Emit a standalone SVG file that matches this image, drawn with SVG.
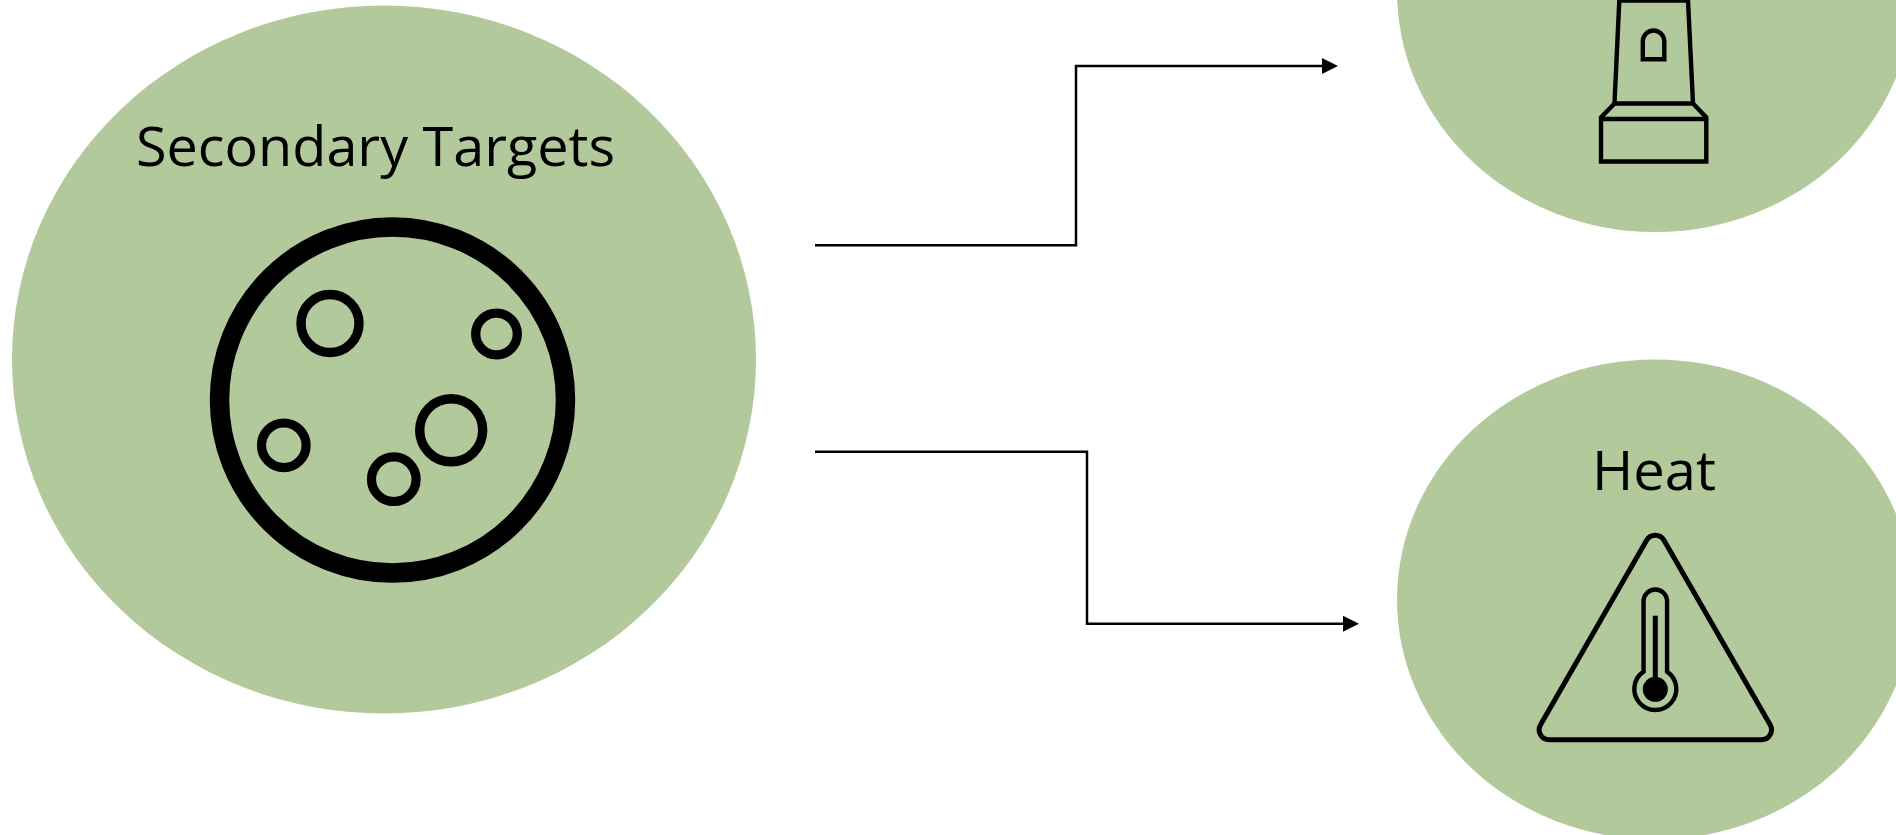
<svg xmlns="http://www.w3.org/2000/svg" width="1896" height="835" viewBox="0 0 1896 835">
<defs>
<style>
.blob{fill:#b2c99b}
.lbl{font-family:"Open Sans","Noto Sans","Liberation Sans",sans-serif;font-size:55px;fill:#000}
.ic{fill:none;stroke:#000}
.cn{fill:none;stroke:#000;stroke-width:2.500}
</style>
<marker id="arr" markerUnits="userSpaceOnUse" markerWidth="17" markerHeight="18" refX="0" refY="9" orient="auto" overflow="visible"><path d="M0 1L16 9L0 17Z" fill="#000"/></marker>
</defs>
<rect width="1896" height="835" fill="#fff"/>
<g id="node-secondary">
<ellipse class="blob" cx="384" cy="359.500" rx="372" ry="354"/>
<text class="lbl" x="136" y="166" textLength="479" lengthAdjust="spacingAndGlyphs">Secondary Targets</text>
<circle class="ic" cx="392.500" cy="400" r="173" stroke-width="19.500"/>
<circle class="ic" cx="330" cy="323.500" r="29" stroke-width="9.400"/>
<circle class="ic" cx="496.500" cy="334" r="20.800" stroke-width="9.300"/>
<circle class="ic" cx="451.200" cy="430.300" r="31.500" stroke-width="9.400"/>
<circle class="ic" cx="283.800" cy="445.300" r="22.300" stroke-width="9.200"/>
<circle class="ic" cx="393.800" cy="479.200" r="22.300" stroke-width="9.200"/>
</g>
<g id="node-top">
<ellipse class="blob" cx="1655" cy="-8" rx="258" ry="240"/>
<g class="ic" stroke-width="4.400">
<path d="M1619.300 0.500H1688L1693 103.500H1614.500Z"/>
<path d="M1614.500 103.500L1601 117.500V161.500H1706.300V117.500L1693 103.500"/>
<path d="M1601 119H1706.300"/>
<path d="M1642.800 59.300V41.300a10.750 10.750 0 0 1 21.500 0V59.300Z"/>
</g>
</g>
<g id="node-heat">
<ellipse class="blob" cx="1655" cy="599.500" rx="258" ry="240"/>
<text class="lbl" x="1592" y="490" textLength="124" lengthAdjust="spacingAndGlyphs">Heat</text>
<g class="ic" stroke-width="5">
<path d="M1540.540 724.800L1646.640 540.200A10 10 0 0 1 1663.960 540.200L1770.160 724.800A10 10 0 0 1 1761.500 739.800H1549.200A10 10 0 0 1 1540.540 724.800Z"/>
<path stroke-width="4.400" d="M1643.550 671.600V601.300A11.750 11.750 0 0 1 1667.050 601.300V671.600A21 21 0 1 1 1643.550 671.600Z"/>
<path d="M1655.300 615.700V680"/>
</g>
<circle cx="1655.300" cy="689.300" r="12.500" fill="#000"/>
</g>
<g id="connectors">
<path class="cn" marker-end="url(#arr)" d="M815 245.300H1076V66H1322"/>
<path class="cn" marker-end="url(#arr)" d="M815 451.700H1087V623.700H1343"/>
</g>
</svg>
